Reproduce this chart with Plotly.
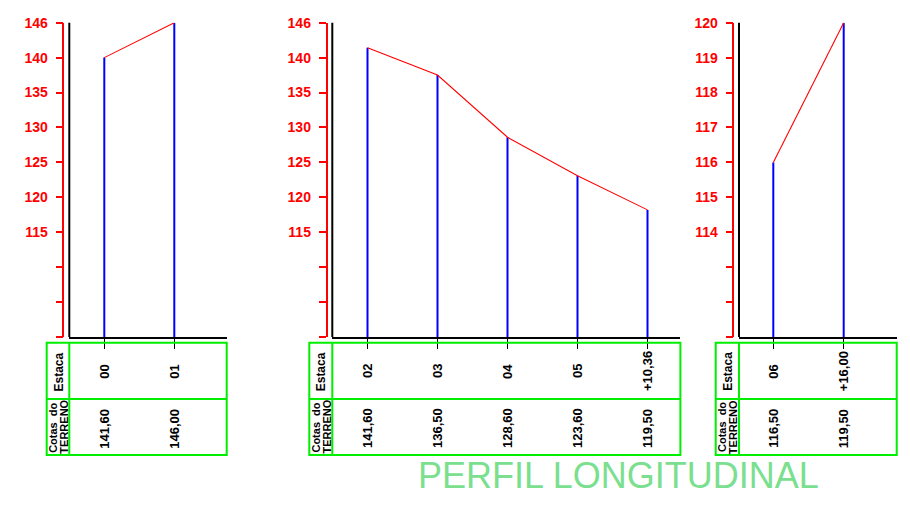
import plotly.graph_objects as go

# ---------------- data ----------------
stations1 = ["00", "01"]
cotas1 = ["141,60", "146,00"]
heights1 = [140.0, 145.0]

stations2 = ["02", "03", "04", "05", "+10,36"]
cotas2 = ["141,60", "136,50", "128,60", "123,60", "119,50"]
heights2 = [141.4, 137.5, 128.6, 123.1, 118.2]

stations3 = ["06", "+16,00"]
cotas3 = ["116,50", "119,50"]
heights3 = [116.0, 120.0]

ytickvals12 = [145, 140, 135, 130, 125, 120, 115, 110, 105, 100]
yticktext12 = ["146", "140", "135", "130", "125", "120", "115", "", "", ""]
ytickvals3 = [120, 119, 118, 117, 116, 115, 114, 113, 112, 111]
yticktext3 = ["120", "119", "118", "117", "116", "115", "114", "", "", ""]

title_text = "PERFIL LONGITUDINAL"
row1_label = "Estaca"
row2_label_a = "Cotas  do"
row2_label_b = "TERRENO"

# ---------------- layout geometry (pixels) ----------------
W, H = 910, 505
def fx(p):
    return p / W
def fy(p):
    return 1 - p / H

FONT = "Liberation Sans, Arial, sans-serif"
RED = "#FF0000"
BLUE = "#0000FF"
GREEN = "#00EE00"

panels = [
    dict(st=stations1, ct=cotas1, h=heights1, tv=ytickvals12, tt=yticktext12,
         red=63.3, black=69.3, end=226.7, first=104.3, sp=70.0, tl=46.7),
    dict(st=stations2, ct=cotas2, h=heights2, tv=ytickvals12, tt=yticktext12,
         red=326.5, black=332.3, end=680.4, first=367.5, sp=70.0, tl=309.3),
    dict(st=stations3, ct=cotas3, h=heights3, tv=ytickvals3, tt=yticktext3,
         red=733.3, black=739.0, end=896.7, first=773.3, sp=70.4, tl=715.7),
]

TOP, BOTTOM = 22.7, 337.0
TAB_TOP, TAB_MID, TAB_BOT = 342.7, 399.0, 455.0

fig = go.Figure()
shapes = []
annotations = []
layout_axes = {}

for k, p in enumerate(panels, start=1):
    sx = "" if k == 1 else str(k)
    xname, yname = "x" + sx, "y" + sx
    idx = list(range(len(p["st"])))
    ymin, ymax = min(p["tv"]), max(p["tv"])

    # blue station verticals
    bx, by = [], []
    for i, h in zip(idx, p["h"]):
        bx += [i, i, None]
        by += [ymin, h, None]
    fig.add_trace(go.Scatter(x=bx, y=by, mode="lines", xaxis=xname, yaxis=yname,
                             line=dict(color=BLUE, width=2), showlegend=False,
                             hoverinfo="skip"))
    # red terrain profile
    fig.add_trace(go.Scatter(x=idx, y=p["h"], mode="lines", xaxis=xname, yaxis=yname,
                             line=dict(color=RED, width=1.1), showlegend=False))

    xr = [(p["black"] - p["first"]) / p["sp"], (p["end"] - p["first"]) / p["sp"]]
    layout_axes["xaxis" + sx] = dict(
        domain=[fx(p["black"]), fx(p["end"])], range=xr, anchor=yname,
        showline=True, linecolor="black", linewidth=2,
        ticks="outside", tickvals=idx, ticklen=10, tickcolor="black", tickwidth=1.2,
        showticklabels=False, showgrid=False, zeroline=False, fixedrange=True,
        automargin=False)
    layout_axes["yaxis" + sx] = dict(
        domain=[fy(BOTTOM), fy(TOP)], range=[ymin, ymax], anchor="free",
        position=fx(p["red"]),
        showline=True, linecolor=RED, linewidth=1.5,
        ticks="outside", tickvals=p["tv"], ticktext=p["tt"], ticklen=7,
        tickcolor=RED, tickwidth=1.5, ticklabelstandoff=5,
        tickfont=dict(family=FONT, size=14, color=RED, weight="bold"),
        showgrid=False, zeroline=False, fixedrange=True, automargin=False)

    # black vertical axis line
    shapes.append(dict(type="line", xref=xname + " domain", yref=yname + " domain",
                       x0=0, x1=0, y0=0, y1=1, line=dict(color="black", width=2)))

    # table
    tl, te, tb = p["tl"], p["end"], p["black"]
    shapes.append(dict(type="rect", xref="paper", yref="paper",
                       x0=fx(tl), x1=fx(te), y0=fy(TAB_BOT), y1=fy(TAB_TOP),
                       line=dict(color=GREEN, width=2)))
    shapes.append(dict(type="line", xref="paper", yref="paper",
                       x0=fx(tl), x1=fx(te), y0=fy(TAB_MID), y1=fy(TAB_MID),
                       line=dict(color=GREEN, width=2)))
    shapes.append(dict(type="line", xref="paper", yref="paper",
                       x0=fx(tb), x1=fx(tb), y0=fy(TAB_BOT), y1=fy(TAB_TOP),
                       line=dict(color=GREEN, width=2)))

    annotations.append(dict(text=row1_label, xref="paper", yref="paper",
                            x=fx((tl + tb) / 2), y=fy(371.5), textangle=-90,
                            showarrow=False, xanchor="center", yanchor="middle",
                            font=dict(family=FONT, size=12, color="black", weight="bold")))
    annotations.append(dict(text=row2_label_a, xref="paper", yref="paper",
                            x=fx(tl + (tb - tl) * 0.25), y=fy(427.5), textangle=-90,
                            showarrow=False, xanchor="center", yanchor="middle",
                            font=dict(family=FONT, size=11, color="black", weight="bold")))
    annotations.append(dict(text=row2_label_b, xref="paper", yref="paper",
                            x=fx(tl + (tb - tl) * 0.75), y=fy(427), textangle=-90,
                            showarrow=False, xanchor="center", yanchor="middle",
                            font=dict(family=FONT, size=11, color="black", weight="bold")))

    for i, s, c in zip(idx, p["st"], p["ct"]):
        annotations.append(dict(text=s, xref=xname, yref="paper", x=i, y=fy(371.5),
                                textangle=-90, showarrow=False,
                                xanchor="center", yanchor="middle",
                                font=dict(family=FONT, size=13, color="black", weight="bold")))
        annotations.append(dict(text=c, xref=xname, yref="paper", x=i, y=fy(428.5),
                                textangle=-90, showarrow=False,
                                xanchor="center", yanchor="middle",
                                font=dict(family=FONT, size=13, color="black", weight="bold")))

annotations.append(dict(text=title_text, xref="paper", yref="paper",
                        x=fx(618.5), y=fy(475), showarrow=False,
                        xanchor="center", yanchor="middle",
                        font=dict(family=FONT, size=36, color="#7ADF8E")))

fig.update_layout(
    width=W, height=H, autosize=False,
    margin=dict(l=0, r=0, t=0, b=0, pad=0),
    paper_bgcolor="white", plot_bgcolor="white",
    showlegend=False, shapes=shapes, annotations=annotations,
    **layout_axes)

fig.write_html("out.html", config={"displayModeBar": False, "responsive": False},
               post_script="document.body.style.margin='0';document.body.style.padding='0';document.body.style.overflow='hidden';")
